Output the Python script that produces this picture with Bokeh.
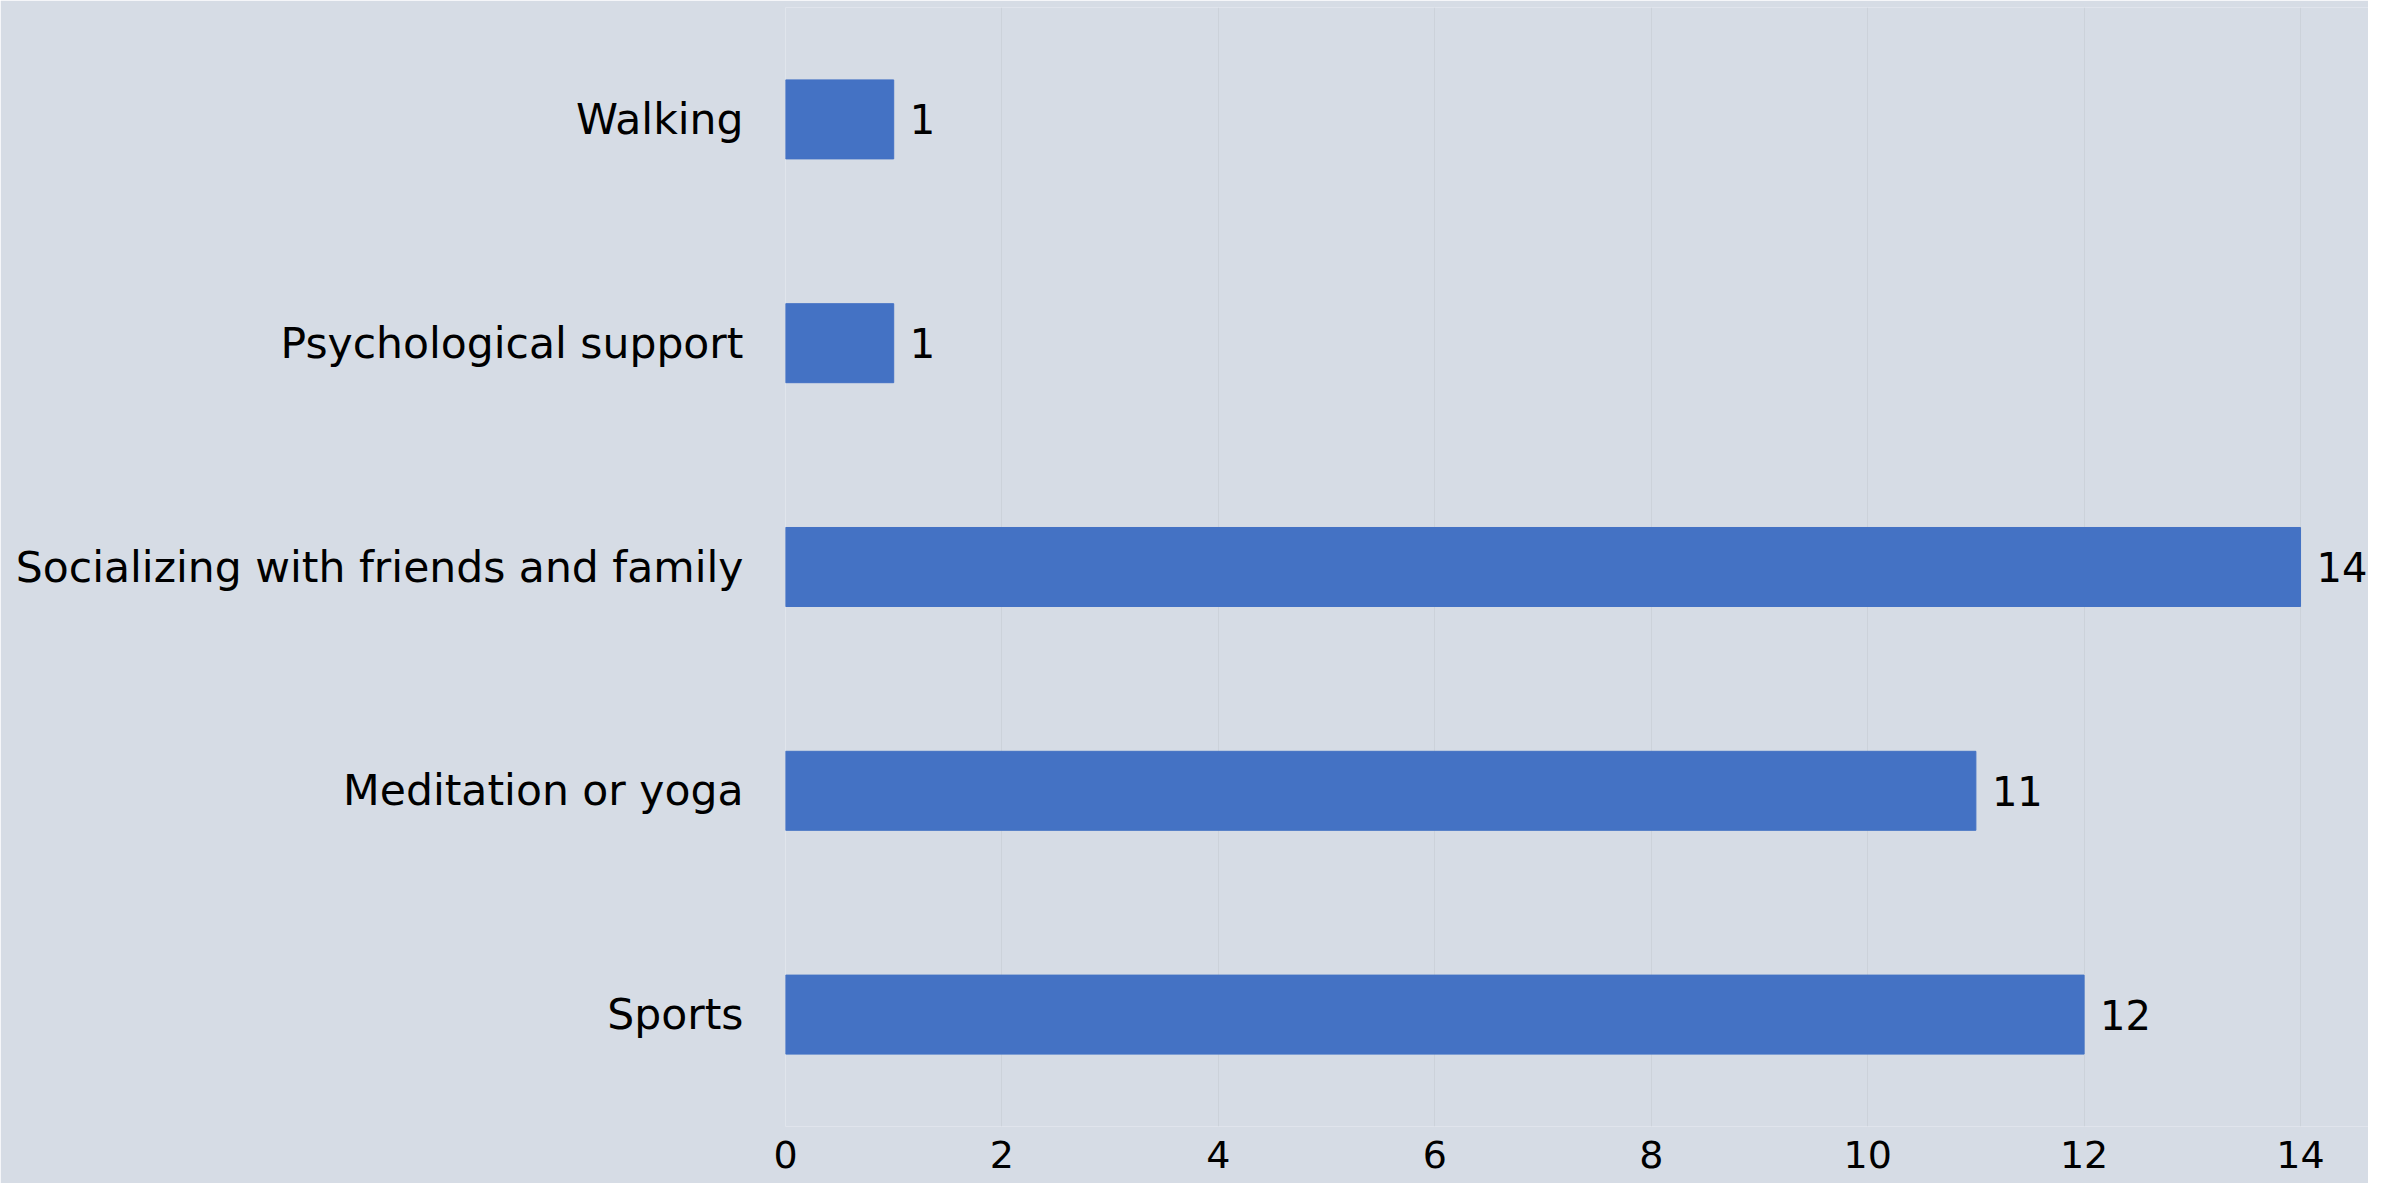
from bokeh.plotting import figure
from bokeh.models import ColumnDataSource, FactorRange, Range1d, FixedTicker
from bokeh.core.properties import value
from bokeh.embed import file_html
from bokeh.resources import INLINE

categories = ["Sports", "Meditation or yoga", "Socializing with friends and family",
              "Psychological support", "Walking"]
counts = [12, 11, 14, 1, 1]
x_ticks = [0, 2, 4, 6, 8, 10, 12, 14]

BG = "#D6DCE5"
BAR = "#4472C4"
FONT = "DejaVu Sans"

src = ColumnDataSource(dict(cat=categories, val=counts, lbl=[str(v) for v in counts]))

p = figure(width=2368, height=1183, output_backend="svg", toolbar_location=None,
           y_range=FactorRange(factors=categories, range_padding=0),
           x_range=Range1d(0, 14.628),
           min_border_left=785, min_border_right=0, min_border_top=7, min_border_bottom=57)
p.background_fill_color = BG
p.border_fill_color = BG
p.outline_line_color = None

p.hbar(y="cat", right="val", left=0, height=0.353, source=src,
       fill_color=BAR, line_color=BAR)
p.text(x="val", y="cat", text="lbl", source=src, x_offset=16,
       text_align="left", text_baseline="middle", text_font=value(FONT),
       text_font_size="40px", text_color="#000000")

p.xaxis.ticker = FixedTicker(ticks=x_ticks)
p.xaxis.axis_line_color = None
p.xaxis.major_tick_line_color = None
p.xaxis.minor_tick_line_color = None
p.xaxis.major_label_text_font = FONT
p.xaxis.major_label_text_font_size = "38px"
p.xaxis.major_label_text_color = "#000000"
p.xaxis.major_label_standoff = 8

p.yaxis.axis_line_color = None
p.yaxis.major_tick_line_color = None
p.yaxis.minor_tick_line_color = None
p.yaxis.major_label_text_font = FONT
p.yaxis.major_label_text_font_size = "42.5px"
p.yaxis.major_label_text_color = "#000000"
p.yaxis.major_label_standoff = 36

p.xgrid.ticker = FixedTicker(ticks=x_ticks)
p.xgrid.grid_line_color = "#CCD2DA"
p.xgrid.grid_line_width = 1
p.ygrid.grid_line_color = None

open("out.html", "w").write(file_html(p, INLINE))
